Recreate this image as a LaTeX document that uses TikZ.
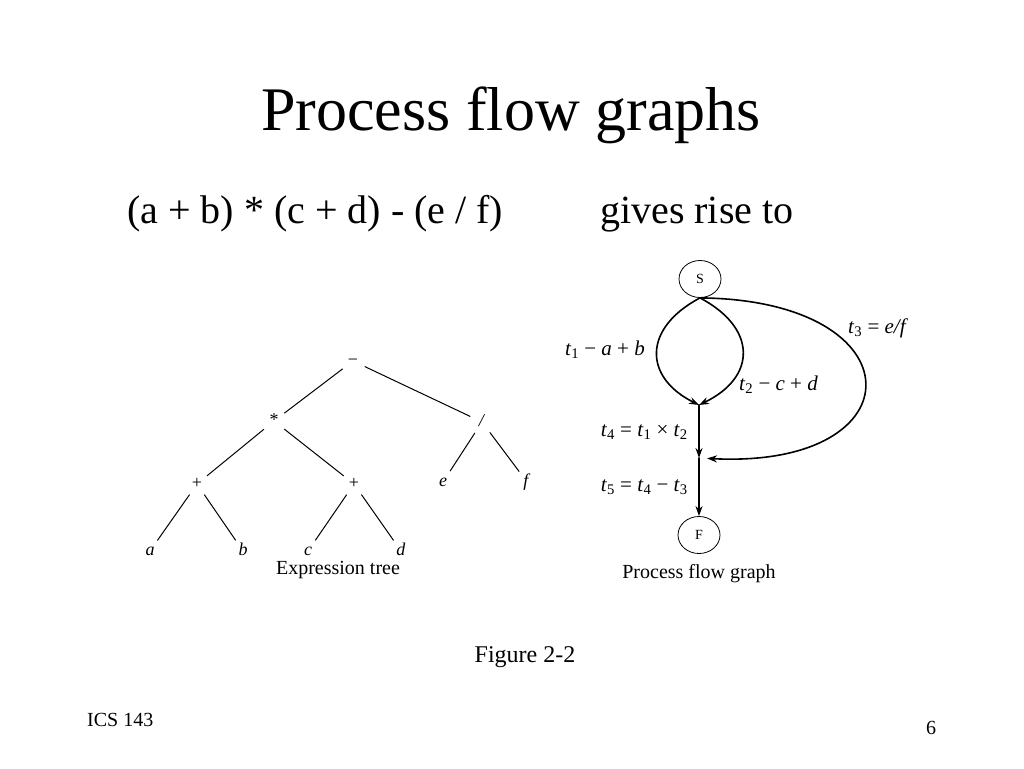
\documentclass[tikz,border=0pt]{standalone}
\usepackage{fontspec}
\setmainfont{Liberation Serif}
\usetikzlibrary{arrows.meta,shapes.geometric}

\begin{document}
\begin{tikzpicture}[x=1pt,y=-1pt,line cap=round]
	\tikzstyle{op}=[circle,inner sep=0pt,minimum size=26pt,text height=10pt,text depth=2pt,font=\fontsize{18}{18}\selectfont];
	\tikzstyle{branch}=[line width=1pt];
	\tikzstyle{endpt}=[ellipse,draw,line width=0.8pt,minimum width=42pt,minimum height=37pt,inner sep=0pt,font=\fontsize{14}{14}\selectfont];
	\tikzstyle{flow}=[line width=1.6pt,-{Stealth[length=10pt,width=7pt]}];
	\tikzstyle{tlabel}=[inner sep=0pt,font=\fontsize{21}{21}\selectfont];
	\tikzstyle{capt}=[anchor=base,inner sep=0pt,font=\fontsize{20}{20}\selectfont];

	\useasboundingbox (0,0) rectangle (1024,768);

	% slide text
	\node[anchor=base,inner sep=0pt,font=\fontsize{62}{62}\selectfont] (title) at (511,130) {Process flow graphs};
	\node[anchor=base west,inner sep=0pt,font=\fontsize{40}{40}\selectfont] (expr) at (127,223) {(a + b) * (c + d) - (e / f)};
	\node[anchor=base west,inner sep=0pt,font=\fontsize{40}{40}\selectfont] (gives) at (600,223) {gives rise to};
	\node[anchor=base,inner sep=0pt,font=\fontsize{24}{24}\selectfont] (fig) at (525,662) {Figure 2-2};
	\node[anchor=base west,inner sep=0pt,font=\fontsize{20}{20}\selectfont] (course) at (87,726) {ICS 143};
	\node[anchor=base,inner sep=0pt,font=\fontsize{20}{20}\selectfont] (page) at (931,734) {6};

	% expression tree
	\node[op] (minus) at (353,361) {−};
	\node[op] (times) at (274,421) {*};
	\node[op] (div)   at (482,422) {\textit{/}};
	\node[op] (plusl) at (197,484) {+};
	\node[op] (plusr) at (354,484) {+};
	\node[op] (le) at (443,482) {\textit{e}};
	\node[op] (lf) at (527,482) {\textit{f}};
	\node[op] (la) at (150,551) {\textit{a}};
	\node[op] (lb) at (243,551) {\textit{b}};
	\node[op] (lc) at (308,551) {\textit{c}};
	\node[op] (ld) at (401,551) {\textit{d}};
	\draw[branch] (minus) -- (times);
	\draw[branch] (minus) -- (div);
	\draw[branch] (times) -- (plusl);
	\draw[branch] (times) -- (plusr);
	\draw[branch] (div) -- (le);
	\draw[branch] (div) -- (lf);
	\draw[branch] (plusl) -- (la);
	\draw[branch] (plusl) -- (lb);
	\draw[branch] (plusr) -- (lc);
	\draw[branch] (plusr) -- (ld);
	\node[capt] (treecap) at (338,574) {Expression tree};

	% process flow graph
	\node[endpt] (start) at (700,279) {S};
	\node[endpt] (fin) at (699,535) {F};
	\coordinate (j1) at (699,405);
	\coordinate (j2) at (699,458);
	\draw[flow] (start.south) .. controls (643,328) and (643,377) .. (j1);
	\draw[flow] (start.south) .. controls (757,328) and (757,377) .. (j1);
	\draw[flow,shorten >=8pt] (start.south) .. controls (919,300) and (919,469) .. (j2);
	\draw[flow] (j1) -- (j2);
	\draw[flow] (j2) -- (fin);
	\node[tlabel,anchor=east] (t1) at (645,350) {\textit{t}\textsubscript{1} − \textit{a} + \textit{b}};
	\node[tlabel,anchor=west] (t2) at (739,385) {\textit{t}\textsubscript{2} − \textit{c} + \textit{d}};
	\node[tlabel,anchor=west] (t3) at (848,328) {\textit{t}\textsubscript{3} = \textit{e/f}};
	\node[tlabel,anchor=east] (t4) at (688,432) {\textit{t}\textsubscript{4} = \textit{t}\textsubscript{1} × \textit{t}\textsubscript{2}};
	\node[tlabel,anchor=east] (t5) at (688,487) {\textit{t}\textsubscript{5} = \textit{t}\textsubscript{4} − \textit{t}\textsubscript{3}};
	\node[capt] (flowcap) at (699,578) {Process flow graph};
\end{tikzpicture}
\end{document}
